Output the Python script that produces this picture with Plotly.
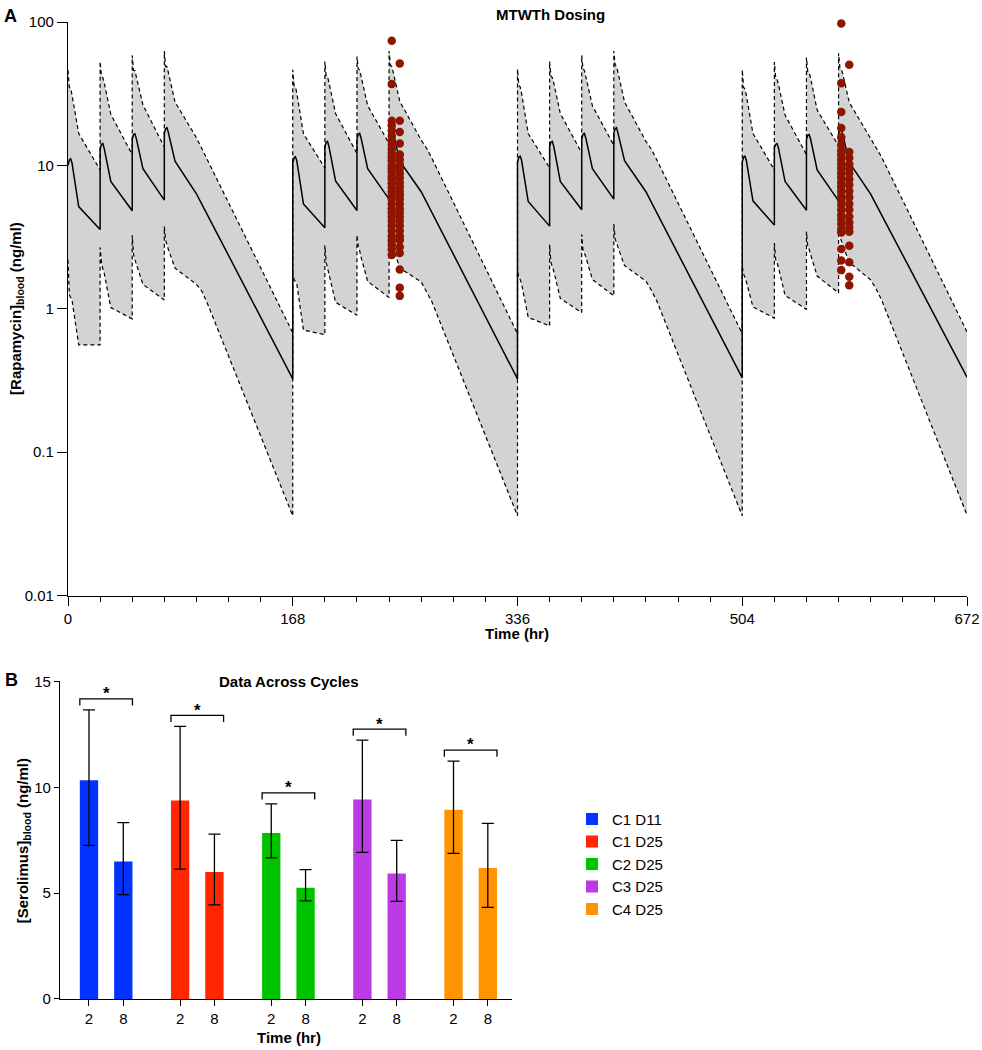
import plotly.graph_objects as go

# ---------------- Panel A data (simulated PK, median and bounds) ----------------
time_hr = [
    0, 1, 2, 3, 8, 24, 24, 25, 26, 27, 32, 48, 48, 49, 50, 51, 56, 72, 72, 73, 74, 75, 80, 96, 100, 104, 168,
    168, 169, 170, 171, 176, 192, 192, 193, 194, 195, 200, 216, 216, 217, 218, 219, 224, 240, 240, 241, 242, 243, 248, 264, 268, 272, 336,
    336, 337, 338, 339, 344, 360, 360, 361, 362, 363, 368, 384, 384, 385, 386, 387, 392, 408, 408, 409, 410, 411, 416, 432, 436, 440, 504,
    504, 505, 506, 507, 512, 528, 528, 529, 530, 531, 536, 552, 552, 553, 554, 555, 560, 576, 576, 577, 578, 579, 584, 600, 604, 608, 672,
]

median_conc = [
    10.0, 10.9, 11.1, 10.4, 5.16, 3.57, 13.0, 14.0, 14.2, 13.2, 7.74, 4.83, 15.2, 16.4, 16.6, 15.5, 9.47, 5.73, 16.8, 18.0, 18.3, 17.0, 10.7, 6.34, 5.37, 4.56, 0.324,
    10.4, 11.3, 11.5, 10.8, 5.38, 3.67, 13.5, 14.5, 14.7, 13.6, 7.8, 4.85, 15.3, 16.5, 16.7, 15.6, 9.47, 5.82, 16.8, 18.0, 18.3, 17.0, 10.7, 6.55, 5.54, 4.69, 0.324,
    10.5, 11.4, 11.6, 10.9, 5.6, 3.77, 13.6, 14.5, 14.7, 13.7, 7.74, 4.9, 15.3, 16.5, 16.7, 15.6, 9.5, 5.82, 16.8, 18.0, 18.3, 17.0, 10.8, 6.55, 5.54, 4.69, 0.33,
    10.6, 11.4, 11.6, 10.9, 5.66, 3.84, 13.3, 14.0, 14.2, 13.3, 7.73, 4.87, 15.2, 16.2, 16.4, 15.4, 9.3, 5.66, 16.6, 17.6, 17.8, 16.6, 10.5, 6.3, 5.35, 4.55, 0.333,
]

upper_conc = [
    46.0, 35.0, 34.5, 31.0, 16.7, 9.3, 53.0, 42.0, 41.0, 38.0, 22.7, 11.9, 58.5, 46.0, 45.8, 42.0, 26.4, 13.4, 62.8, 49.0, 48.7, 44.5, 27.7, 15.6, 13.1, 11.0, 0.68,
    46.4, 36.0, 35.3, 32.0, 16.6, 9.6, 53.0, 42.0, 41.5, 38.0, 23.0, 12.1, 57.4, 47.0, 46.4, 42.0, 26.1, 14.2, 62.8, 50.0, 49.0, 45.0, 28.0, 15.0, 13.2, 11.2, 0.67,
    46.9, 36.0, 35.3, 32.0, 16.7, 9.6, 53.0, 42.0, 41.0, 38.0, 23.0, 12.2, 58.5, 47.0, 46.0, 42.0, 26.0, 13.8, 62.8, 50.0, 49.0, 45.0, 27.7, 14.7, 13.0, 11.0, 0.67,
    46.5, 35.0, 34.1, 31.0, 16.7, 9.3, 52.6, 41.0, 39.8, 37.0, 22.4, 11.9, 56.6, 45.0, 44.5, 41.0, 24.3, 13.7, 60.6, 48.0, 47.0, 44.0, 27.5, 15.3, 13.5, 11.5, 0.69,
]

lower_conc = [
    2.2, 1.25, 1.2, 1.15, 0.56, 0.56, 2.68, 2.1, 1.9, 1.78, 1.02, 0.85, 3.26, 2.4, 2.2, 2.05, 1.48, 1.15, 3.74, 3.0, 2.8, 2.6, 1.92, 1.48, 1.33, 1.1, 0.036,
    1.75, 1.6, 1.55, 1.5, 0.71, 0.66, 2.77, 2.1, 1.92, 1.75, 1.11, 0.90, 3.26, 2.7, 2.55, 2.3, 1.55, 1.20, 3.86, 3.2, 3.0, 2.7, 1.92, 1.54, 1.32, 1.12, 0.036,
    1.81, 1.65, 1.6, 1.5, 0.87, 0.76, 2.8, 2.1, 2.0, 1.85, 1.18, 0.94, 3.3, 2.55, 2.45, 2.3, 1.6, 1.23, 3.9, 3.05, 2.9, 2.7, 2.0, 1.56, 1.35, 1.14, 0.036,
    1.98, 1.75, 1.65, 1.55, 1.03, 0.86, 2.87, 2.2, 2.1, 1.95, 1.24, 0.99, 3.46, 2.7, 2.6, 2.4, 1.69, 1.29, 3.9, 3.2, 3.0, 2.8, 2.11, 1.59, 1.38, 1.16, 0.0365,
]

# observed concentrations (ng/ml) at 2 h and 8 h post-dose
obs_times = [242, 248, 578, 584]
obs_c1d11_2h = [74, 37, 20.5, 19, 17.5, 16, 15, 14, 13, 12.2, 11.5, 10.8, 10, 9.5, 9, 8.4, 8, 7.5, 7, 6.6,
                6.2, 5.8, 5.4, 5, 4.7, 4.4, 4.1, 3.8, 3.5, 3.2, 3.0, 2.8, 2.6, 2.37]
obs_c1d11_8h = [51.4, 20.5, 17.1, 14.2, 11.9, 11, 10.2, 9.5, 8.8, 8.2, 7.6, 7.1, 6.6, 6.2, 5.8, 5.4, 5.0,
                4.7, 4.4, 4.1, 3.8, 3.5, 3.2, 3.0, 2.7, 2.45, 1.88, 1.40, 1.23]
obs_c4d25_2h = [97.7, 37.4, 23.6, 18.2, 15.7, 13.9, 12.7, 11.8, 11, 10.2, 9.5, 8.8, 8.2, 7.6, 7.1, 6.6, 6.1,
                5.7, 5.3, 4.9, 4.5, 4.2, 3.9, 3.6, 3.4, 2.61, 2.17, 1.86]
obs_c4d25_8h = [50.4, 12.4, 11.3, 10.2, 9.5, 8.8, 8.0, 7.3, 6.6, 6.0, 5.4, 4.9, 4.4, 4.0, 3.7, 3.45, 2.75,
                2.11, 1.67, 1.46]

# ---------------- Panel B data ----------------
cycles = ["C1 D11", "C1 D25", "C2 D25", "C3 D25", "C4 D25"]
time_labels = ["2", "8"]
mean_2h = [10.33, 9.38, 7.84, 9.43, 8.94]
mean_8h = [6.50, 6.00, 5.26, 5.93, 6.19]
err_up_2h = [3.33, 3.50, 1.38, 2.80, 2.30]
err_dn_2h = [3.07, 3.24, 1.17, 2.50, 2.06]
err_up_8h = [1.83, 1.79, 0.85, 1.56, 2.11]
err_dn_8h = [1.57, 1.55, 0.62, 1.32, 1.86]
bar_colors = ["#0433FF", "#FF2600", "#00C300", "#BC3AE6", "#FF9300"]

FONT = "Liberation Sans, Arial, Helvetica, sans-serif"

# pixel -> paper helpers (layout only)
L, R, T, B = 60, 15, 22, 50.7
W, H = 982, 1050
PW, PH = W - L - R, H - T - B


def fx(px):
    return (px - L) / PW


def fy(py):
    return (H - B - py) / PH


fig = go.Figure()

# ---- Panel A ----
dash_line = dict(color="black", width=1.2, dash="4px,3px")
fig.add_trace(go.Scatter(x=time_hr, y=lower_conc, mode="lines", line=dash_line,
                         showlegend=False, hoverinfo="skip", xaxis="x", yaxis="y"))
fig.add_trace(go.Scatter(x=time_hr, y=upper_conc, mode="lines", line=dash_line,
                         fill="tonexty", fillcolor="#d3d3d3",
                         showlegend=False, hoverinfo="skip", xaxis="x", yaxis="y"))
fig.add_trace(go.Scatter(x=time_hr, y=median_conc, mode="lines",
                         line=dict(color="black", width=1.5),
                         showlegend=False, xaxis="x", yaxis="y"))
for t, vals in zip(obs_times, [obs_c1d11_2h, obs_c1d11_8h, obs_c4d25_2h, obs_c4d25_8h]):
    fig.add_trace(go.Scatter(x=[t] * len(vals), y=vals, mode="markers", cliponaxis=False,
                             marker=dict(color="#8E1500", size=8.5, line=dict(width=0)),
                             showlegend=False, xaxis="x", yaxis="y"))

# ---- Panel B ----
group_step = 2.656
bar_w = 0.534
for i, c in enumerate(cycles):
    xs = [i * group_step + j for j in range(2)]
    fig.add_trace(go.Bar(
        x=xs, y=[mean_2h[i], mean_8h[i]], width=bar_w, name=c,
        marker=dict(color=bar_colors[i], line=dict(width=0)),
        error_y=dict(type="data", symmetric=False,
                     array=[err_up_2h[i], err_up_8h[i]],
                     arrayminus=[err_dn_2h[i], err_dn_8h[i]],
                     color="black", thickness=1.3, width=6),
        xaxis="x2", yaxis="y2", showlegend=True))

shapes = []
annotations = []
for i in range(len(cycles)):
    x0 = i * group_step - bar_w / 2
    x1 = i * group_step + 1 + bar_w / 2
    yb = mean_2h[i] + err_up_2h[i] + 0.52
    shapes.append(dict(type="path", xref="x2", yref="y2",
                       path=f"M {x0},{yb - 0.31} L {x0},{yb} L {x1},{yb} L {x1},{yb - 0.31}",
                       line=dict(color="black", width=1.3)))
    annotations.append(dict(x=(x0 + x1) / 2, y=yb + 0.24, xref="x2", yref="y2", text="<b>*</b>",
                            showarrow=False, xanchor="center", yanchor="middle",
                            font=dict(family=FONT, size=17, color="black")))

tickpos_b = [i * group_step + j for i in range(len(cycles)) for j in range(2)]
ticktext_b = [time_labels[j] for i in range(len(cycles)) for j in range(2)]

bold = dict(family=FONT, size=15, color="black")
annotations += [
    dict(x=fx(10), y=fy(16), text="<b>A</b>", font=dict(family=FONT, size=18, color="black")),
    dict(x=fx(11), y=fy(680), text="<b>B</b>", font=dict(family=FONT, size=18, color="black")),
    dict(x=fx(550), y=fy(14), text="<b>MTWTh Dosing</b>", font=bold),
    dict(x=fx(517), y=fy(634), text="<b>Time (hr)</b>", font=bold),
    dict(x=fx(17), y=fy(309), text="<b>[Rapamycin]<sub>blood</sub> (ng/ml)</b>", font=bold, textangle=-90),
    dict(x=fx(289), y=fy(681.5), text="<b>Data Across Cycles</b>", font=bold),
    dict(x=fx(289), y=fy(1038), text="<b>Time (hr)</b>", font=bold),
    dict(x=fx(23.5), y=fy(841), text="<b>[Serolimus]<sub>blood</sub> (ng/ml)</b>", font=bold, textangle=-90),
]
for a in annotations[-8:]:
    a.update(xref="paper", yref="paper", showarrow=False, xanchor="center", yanchor="middle")

tickfont = dict(family=FONT, size=15, color="black")
axis_common = dict(showline=True, linecolor="black", linewidth=1.3, ticks="outside",
                   tickcolor="black", tickwidth=1.3, showgrid=False, zeroline=False,
                   tickfont=tickfont, automargin=False)

fig.update_layout(
    width=W, height=H,
    margin=dict(l=L, r=R, t=T, b=B, pad=0, autoexpand=False),
    paper_bgcolor="white", plot_bgcolor="white",
    font=dict(family=FONT, size=15, color="black"),
    barmode="overlay",
    xaxis=dict(domain=[fx(68), 1], range=[0, 672], tick0=0, dtick=168, ticklen=9,
               minor=dict(ticks="outside", dtick=24, tick0=0, ticklen=5, tickwidth=1.3,
                          tickcolor="black", showgrid=False),
               anchor="y", **axis_common),
    yaxis=dict(domain=[fy(595.7), 1], type="log", range=[-2, 2],
               tickvals=[0.01, 0.1, 1, 10, 100], ticktext=["0.01", "0.1", "1", "10", "100"],
               ticklen=10, anchor="x", **axis_common),
    xaxis2=dict(domain=[0, fx(511.7)], range=[-0.845, 12.32], tickmode="array",
                tickvals=tickpos_b, ticktext=ticktext_b, ticklen=6, anchor="y2", **axis_common),
    yaxis2=dict(domain=[0, fy(681.7)], range=[0, 15], tickvals=[0, 5, 10, 15],
                ticklen=5, anchor="x2", **axis_common),
    legend=dict(x=fx(572), y=fy(803), xanchor="left", yanchor="top", traceorder="normal",
                font=dict(family=FONT, size=15, color="black"),
                bgcolor="rgba(0,0,0,0)", borderwidth=0, tracegroupgap=0, itemwidth=30),
    shapes=shapes,
    annotations=annotations,
)

fig.write_html("out.html", config={"displayModeBar": False},
               post_script="document.body.style.margin='0px';document.body.style.padding='0px';")
